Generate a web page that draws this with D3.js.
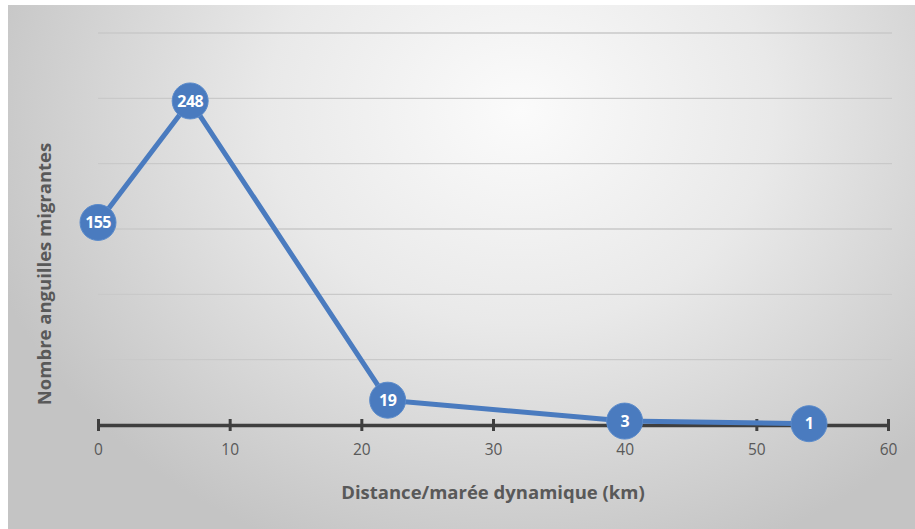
<!DOCTYPE html>
<html><head><meta charset="utf-8">
<script src="https://cdn.jsdelivr.net/npm/d3@7"></script>
<style>html,body{margin:0;padding:0;background:#fff;}svg{display:block;}</style>
</head><body><svg id="c" width="915" height="529"></svg>
<script>
const distances = [0, 7, 22, 40, 54];
const counts = [155, 248, 19, 3, 1];
const xTicks = [0, 10, 20, 30, 40, 50, 60];
const yGrid = [0, 50, 100, 150, 200, 250, 300];
const xTitle = "Distance/marée dynamique (km)";
const yTitle = "Nombre anguilles migrantes";

const FONT = "'Open Sans', sans-serif";
const svg = d3.select("#c");
const defs = svg.append("defs");
const g = defs.append("radialGradient").attr("id","bg")
  .attr("gradientUnits","userSpaceOnUse").attr("cx",520).attr("cy",110).attr("r",560)
  .attr("gradientTransform","translate(520,110) scale(1,0.85) translate(-520,-110)");
g.append("stop").attr("offset","0").attr("stop-color","#fbfbfb");
g.append("stop").attr("offset","0.45").attr("stop-color","#e9e9e9");
g.append("stop").attr("offset","1").attr("stop-color","#c4c4c4");
svg.append("rect").attr("x",8).attr("y",5).attr("width",907).attr("height",524).attr("fill","url(#bg)");

const x = d3.scaleLinear().domain([0,60]).range([98,888]);
const y = d3.scaleLinear().domain([0,300]).range([425,33]);

// gridlines
svg.append("g").selectAll("line").data(yGrid.filter(v=>v>0)).join("line")
  .attr("x1",x(0)).attr("x2",x(60)+4).attr("y1",d=>y(d)).attr("y2",d=>y(d))
  .attr("stroke","#c9c9c9").attr("stroke-width",1.3);

// x axis
const ax = svg.append("g").attr("transform",`translate(0,${y(0)})`)
  .call(d3.axisBottom(x).tickValues(xTicks).tickSize(0).tickPadding(19));
ax.select(".domain").attr("stroke","#3f3f3f").attr("stroke-width",3.5);
ax.selectAll(".tick line").remove();
ax.selectAll(".tick").append("line").attr("y1",-6).attr("y2",6).attr("stroke","#3f3f3f").attr("stroke-width",3);
ax.selectAll(".tick text").attr("fill","#595959").attr("font-family",FONT).attr("font-size",15.5);

// line
svg.append("path").datum(distances.map((d,i)=>[d,counts[i]]))
  .attr("fill","none").attr("stroke","#4a7bbf").attr("stroke-width",5).attr("stroke-linejoin","round")
  .attr("d", d3.line().x(d=>x(d[0])).y(d=>y(d[1])));

// markers
const pts = svg.append("g").selectAll("g").data(distances.map((d,i)=>({d, v:counts[i]}))).join("g")
  .attr("transform",p=>`translate(${x(p.d)},${y(p.v)})`);
pts.append("circle").attr("r",18).attr("fill","#4a7bbf").attr("stroke","#5b8bcb").attr("stroke-width",1);
pts.append("text").text(p=>p.v).attr("text-anchor","middle").attr("dy","0.36em")
  .attr("fill","#fff").attr("font-weight","bold").attr("font-family",FONT).attr("font-size",16)
  .attr("letter-spacing",-0.6);

// titles
svg.append("text").text(xTitle).attr("x",493).attr("y",499).attr("text-anchor","middle")
  .attr("fill","#595959").attr("font-weight","bold").attr("font-family",FONT).attr("font-size",18.5);
svg.append("text").text(yTitle).attr("transform","translate(51,274) rotate(-90)").attr("text-anchor","middle")
  .attr("fill","#595959").attr("font-weight","bold").attr("font-family",FONT).attr("font-size",18.5);
</script></body></html>
